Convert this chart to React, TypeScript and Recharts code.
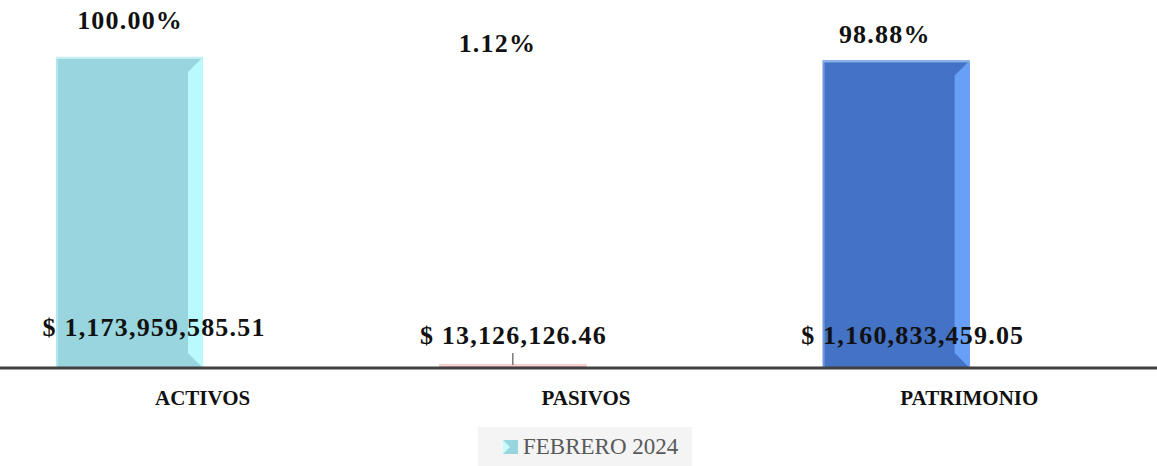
import React from 'react';
import { BarChart, Bar, XAxis, YAxis, Legend, LabelList } from 'recharts';

const CATEGORIES = ['ACTIVOS', 'PASIVOS', 'PATRIMONIO'];
const FEBRERO_2024 = [1173959585.51, 13126126.46, 1160833459.05];
const SHARE_PCT = [100.0, 1.12, 98.88];
const SERIES_NAME = 'FEBRERO 2024';

const data = CATEGORIES.map((name, i) => ({
  name,
  value: FEBRERO_2024[i],
  pct: SHARE_PCT[i],
}));

// bevel colours per bar: face, right edge, rim
const BAR_COLORS = [
  { face: '#99D5DE', edge: '#B8FAFF', rim: '#C4F1F5' },
  { face: '#E58585', edge: '#F2A8A8', rim: '#F7D6D6' },
  { face: '#4472C4', edge: '#68A0F8', rim: '#8DB4EE' },
];

// label nudges (px) – percent labels hang from the top, amounts sit above the base
const PCT_LABEL = [
  { dx: 0, y: 20 },
  { dx: -16, y: 43 },
  { dx: -12, y: 34 },
];
const AMOUNT_LABEL = [
  { dx: 24, up: 41 },
  { dx: 0, up: 33 },
  { dx: 16, up: 33 },
];

const SERIF = '"Liberation Serif", "DejaVu Serif", serif';

const fmtMoney = (v: number) =>
  '$ ' + v.toLocaleString('en-US', { minimumFractionDigits: 2, maximumFractionDigits: 2 });

function BevelBar(props: any) {
  const { x, y, width, height, index } = props;
  const c = BAR_COLORS[index] ?? BAR_COLORS[0];
  const s = Math.min(15, height / 2);
  return (
    <g>
      <rect x={x} y={y} width={width} height={height} fill={c.face} />
      <polygon
        points={`${x + width - s},${y + s} ${x + width},${y} ${x + width},${y + height} ${x + width - s},${y + height - s}`}
        fill={c.edge}
      />
      <rect x={x} y={y} width={width} height={Math.min(2, height)} fill={c.rim} />
      <rect x={x} y={y} width={2} height={height} fill={c.rim} opacity={0.6} />
    </g>
  );
}

function PctLabel(props: any) {
  const { x, width, index, value } = props;
  const p = PCT_LABEL[index];
  return (
    <text
      x={x + width / 2 + p.dx + 0.6}
      y={p.y}
      textAnchor="middle"
      dominantBaseline="central"
      fontFamily={SERIF}
      fontWeight="bold"
      fontSize={26}
      letterSpacing={1.2}
      fill="#111"
    >
      {`${Number(value).toFixed(2)}%`}
    </text>
  );
}

function AmountLabel(props: any) {
  const { x, y, width, height, index, value } = props;
  const a = AMOUNT_LABEL[index];
  const base = y + height;
  const cx = x + width / 2 + a.dx;
  return (
    <g>
      {index === 1 && (
        <line x1={cx} x2={cx} y1={base - 15} y2={base - 3} stroke="#595959" strokeWidth={1.2} />
      )}
      <text
        x={cx + 0.6}
        y={base - a.up}
        textAnchor="middle"
        dominantBaseline="central"
        fontFamily={SERIF}
        fontWeight="bold"
        fontSize={26}
        letterSpacing={1.2}
        fill="#111"
      >
        {fmtMoney(Number(value))}
      </text>
    </g>
  );
}

function CategoryTick(props: any) {
  const { x, y, payload } = props;
  return (
    <text
      x={x + 73}
      y={y + 22}
      textAnchor="middle"
      dominantBaseline="central"
      fontFamily={SERIF}
      fontWeight="bold"
      fontSize={21}
      fill="#111"
    >
      {payload.value}
    </text>
  );
}

function LegendBox() {
  return (
    <div
      style={{
        width: 214,
        height: 39,
        boxSizing: 'border-box',
        paddingLeft: 25,
        background: '#F4F4F4',
        display: 'flex',
        alignItems: 'center',
        gap: 5,
        fontFamily: SERIF,
        fontSize: 23,
        color: '#595959',
      }}
    >
      <svg width={15} height={14}>
        <rect x={0} y={0} width={15} height={14} fill="#99D5DE" />
        <polygon points="0,0 7,7 0,14" fill="#C8FBFF" />
      </svg>
      <span>{SERIES_NAME}</span>
    </div>
  );
}

export default function App() {
  return (
    <div style={{ position: 'absolute', left: 0, top: 0, width: 1157, height: 466, background: '#fff' }}>
      <BarChart
        width={1157}
        height={466}
        data={data}
        margin={{ top: 50, right: 0, left: 0, bottom: 58 }}
      >
        <XAxis
          dataKey="name"
          padding={{ left: -62, right: 69 }}
          axisLine={{ stroke: '#404040', strokeWidth: 3 }}
          tickLine={false}
          tick={<CategoryTick />}
          height={40}
          interval={0}
        />
        <YAxis hide domain={[0, 1200000000]} />
        <Legend
          layout="vertical"
          align="center"
          verticalAlign="middle"
          content={<LegendBox />}
          wrapperStyle={{ left: 478, top: 427, width: 214 }}
        />
        <Bar
          dataKey="value"
          name={SERIES_NAME}
          barSize={147}
          shape={<BevelBar />}
          isAnimationActive={false}
        >
          <LabelList dataKey="pct" content={<PctLabel />} />
          <LabelList dataKey="value" content={<AmountLabel />} />
        </Bar>
      </BarChart>
    </div>
  );
}
